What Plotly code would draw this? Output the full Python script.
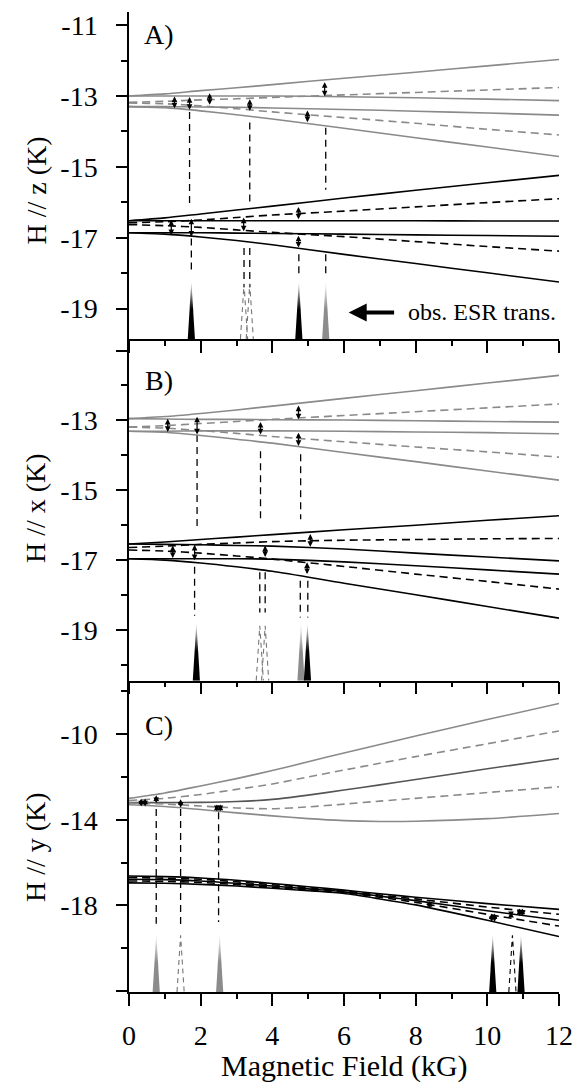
import plotly.graph_objects as go
from plotly.subplots import make_subplots

# ---------------- data ----------------
FIELD_AB = [0, 1, 2, 3, 4, 6, 8, 10, 12]
FIELD_C = [0, 1, 2, 3, 4, 5, 6, 7, 8, 10, 12]

# Panel A  (H // z) - upper (gray) levels
A_UP_S1 = [-13.00, -12.94, -12.85, -12.77, -12.68, -12.50, -12.33, -12.15, -11.97]
A_UP_D1 = [-13.18, -13.15, -13.11, -13.08, -13.04, -12.97, -12.90, -12.83, -12.76]
A_UP_S2 = [-13.00, -13.00, -13.00, -13.00, -13.00, -13.02, -13.05, -13.09, -13.13]
A_UP_S3 = [-13.30, -13.30, -13.31, -13.32, -13.34, -13.38, -13.43, -13.48, -13.54]
A_UP_D2 = [-13.20, -13.22, -13.28, -13.36, -13.45, -13.61, -13.77, -13.94, -14.10]
A_UP_S4 = [-13.30, -13.33, -13.42, -13.53, -13.65, -13.91, -14.18, -14.44, -14.71]
# Panel A - lower (black) levels
A_LO_S1 = [-16.52, -16.44, -16.33, -16.22, -16.11, -15.88, -15.66, -15.45, -15.24]
A_LO_D1 = [-16.58, -16.55, -16.50, -16.43, -16.36, -16.25, -16.13, -16.01, -15.90]
A_LO_S2 = [-16.52, -16.52, -16.52, -16.52, -16.52, -16.52, -16.52, -16.53, -16.53]
A_LO_S3 = [-16.86, -16.86, -16.86, -16.87, -16.88, -16.90, -16.92, -16.94, -16.96]
A_LO_D2 = [-16.63, -16.66, -16.71, -16.78, -16.85, -16.97, -17.11, -17.25, -17.38]
A_LO_S4 = [-16.86, -16.90, -16.98, -17.08, -17.20, -17.47, -17.73, -17.99, -18.25]
# Panel A transitions
A_ARROW_X = [1.27, 1.69, 2.25, 3.37, 4.98, 5.46, 1.18, 1.74, 3.20, 4.73, 4.73]
A_ARROW_FROM = [-12.97, -12.99, -12.88, -13.05, -13.37, -12.57, -16.46, -16.42, -16.39, -16.09, -16.90]
A_ARROW_TO = [-13.35, -13.39, -13.25, -13.42, -13.74, -13.01, -16.93, -16.97, -16.82, -16.48, -17.28]
A_VLINE_X = [1.69, 3.37, 5.49, 1.74, 3.21, 3.37, 4.74, 5.49]
A_VLINE_TOP = [-13.45, -13.75, -13.90, -17.02, -17.29, -17.29, -17.47, -17.47]
A_VLINE_BOT = [-16.12, -16.06, -15.65, -18.03, -18.40, -18.40, -18.14, -18.13]
A_PEAK_X = [1.74, 4.74, 5.49]
A_PEAK_KIND = ['black', 'black', 'gray']
A_WEAK_X = [3.21, 3.37]

# Panel B  (H // x)
B_UP_S1 = [-12.95, -12.89, -12.80, -12.70, -12.59, -12.37, -12.15, -11.93, -11.71]
B_UP_D1 = [-13.19, -13.15, -13.09, -13.03, -12.97, -12.86, -12.75, -12.64, -12.53]
B_UP_S2 = [-12.95, -12.96, -12.97, -12.97, -12.98, -12.99, -13.01, -13.03, -13.05]
B_UP_S3 = [-13.31, -13.31, -13.30, -13.30, -13.30, -13.31, -13.33, -13.35, -13.38]
B_UP_D2 = [-13.19, -13.22, -13.29, -13.37, -13.46, -13.61, -13.76, -13.90, -14.05]
B_UP_S4 = [-13.31, -13.34, -13.43, -13.54, -13.65, -13.92, -14.18, -14.45, -14.71]
B_LO_S1 = [-16.54, -16.48, -16.41, -16.34, -16.27, -16.13, -16.00, -15.86, -15.73]
B_LO_D1 = [-16.64, -16.60, -16.55, -16.51, -16.47, -16.43, -16.41, -16.39, -16.38]
B_LO_S2 = [-16.54, -16.55, -16.56, -16.58, -16.60, -16.68, -16.80, -16.91, -17.02]
B_LO_S3 = [-16.96, -16.96, -16.96, -16.96, -16.97, -17.05, -17.16, -17.28, -17.40]
B_LO_D2 = [-16.71, -16.74, -16.80, -16.88, -16.97, -17.18, -17.40, -17.61, -17.83]
B_LO_S4 = [-16.96, -17.00, -17.08, -17.19, -17.32, -17.66, -17.99, -18.33, -18.66]
B_ARROW_X = [1.08, 1.90, 3.67, 4.73, 4.73, 1.22, 1.83, 3.80, 4.97, 5.06]
B_ARROW_FROM = [-12.91, -12.85, -13.00, -12.53, -13.31, -16.54, -16.52, -16.54, -17.02, -16.21]
B_ARROW_TO = [-13.33, -13.40, -13.40, -12.97, -13.73, -16.94, -17.00, -16.91, -17.40, -16.62]
B_VLINE_X = [1.90, 3.67, 4.79, 1.83, 3.65, 3.80, 4.78, 4.99]
B_VLINE_TOP = [-13.42, -13.88, -13.97, -17.19, -17.35, -17.35, -17.59, -17.59]
B_VLINE_BOT = [-16.11, -15.88, -15.83, -18.59, -18.50, -18.50, -18.64, -18.64]
B_PEAK_X = [1.88, 4.80, 4.98]
B_PEAK_KIND = ['black', 'gray', 'black']
B_WEAK_X = [3.65, 3.80]

# Panel C  (H // y)
C_UP_S1 = [-13.00, -12.75, -12.42, -12.08, -11.70, -11.29, -10.88, -10.48, -10.09, -9.32, -8.57]
C_UP_D1 = [-13.10, -13.00, -12.82, -12.58, -12.33, -12.00, -11.68, -11.36, -11.05, -10.45, -9.85]
C_UP_S2 = [-13.20, -13.20, -13.19, -13.15, -13.05, -12.85, -12.61, -12.37, -12.12, -11.62, -11.14]
C_UP_D2 = [-13.22, -13.27, -13.36, -13.45, -13.49, -13.40, -13.27, -13.13, -13.00, -12.73, -12.46]
C_UP_S3 = [-13.30, -13.38, -13.52, -13.68, -13.82, -13.95, -14.04, -14.08, -14.07, -13.95, -13.71]
C_LO_S1 = [-16.63, -16.66, -16.72, -16.83, -16.98, -17.13, -17.29, -17.46, -17.62, -17.92, -18.19]
C_LO_D1 = [-16.70, -16.73, -16.78, -16.90, -17.04, -17.18, -17.33, -17.52, -17.70, -18.08, -18.42]
C_LO_S2 = [-16.78, -16.80, -16.86, -16.97, -17.10, -17.23, -17.37, -17.57, -17.78, -18.25, -18.70]
C_LO_D2 = [-16.86, -16.88, -16.93, -17.03, -17.15, -17.28, -17.41, -17.62, -17.86, -18.42, -18.97]
C_LO_S3 = [-16.95, -16.97, -17.02, -17.10, -17.20, -17.32, -17.45, -17.70, -17.98, -18.70, -19.46]
C_ARROW_X = [0.34, 0.45, 0.76, 1.44, 2.45, 2.55, 8.39, 10.12, 10.20, 10.66, 10.90, 10.98]
C_ARROW_FROM = [-12.94, -12.94, -12.79, -12.97, -13.22, -13.22, -17.73, -18.31, -18.31, -18.23, -18.08, -18.08]
C_ARROW_TO = [-13.38, -13.38, -13.22, -13.44, -13.60, -13.60, -18.11, -18.78, -18.78, -18.55, -18.51, -18.51]
C_VLINE_X = [0.76, 1.44, 2.50]
C_VLINE_TOP = [-13.50, -13.50, -13.65]
C_VLINE_BOT = [-18.86, -18.93, -18.78]
C_PEAK_X = [0.76, 2.53, 10.15, 10.94]
C_PEAK_KIND = ['gray', 'gray', 'black', 'black']
C_WEAK_X = [1.44, 10.70]
C_WEAK_KIND = ['gray', 'black']

X_TICKS = [0, 2, 4, 6, 8, 10, 12]
A_YTICKS = [-19, -17, -15, -13, -11]
A_YTICKTEXT = ['-19', '-17', '-15', '-13', '-11']
B_YTICKS = [-19, -17, -15, -13, -11]
B_YTICKTEXT = ['-19', '-17', '-15', '-13', '']
C_YTICKS = [-22, -18, -14, -10]
C_YTICKTEXT = ['', '-18', '-14', '-10']

# ---------------- styling ----------------
FONT = 'Liberation Serif, Times New Roman, serif'
GRAY = '#8a8a8a'
DARKGRAY = '#555555'
LW = 1.6
DASH = '8px,5px'
PEAK_HW = 0.1

RANGES = {1: [-19.86, -10.63], 2: [-20.45, -10.67], 3: [-22.05, -7.50]}
PEAK_TOP = {1: -18.2, 2: -18.78, 3: -19.3}

fig = make_subplots(rows=3, cols=1, vertical_spacing=0,
                    row_heights=[327.7, 342.3, 312.0])


def axn(row, letter):
    return letter if row == 1 else f'{letter}{row}'


def add_level(row, xs, ys, color, dashed):
    fig.add_trace(go.Scatter(x=xs, y=ys, mode='lines', hoverinfo='skip',
                             line=dict(color=color, width=LW,
                                       dash=DASH if dashed else 'solid',
                                       shape='spline', smoothing=0.7)),
                  row=row, col=1)


def add_vlines(row, xs, tops, bots):
    for x, t, b in zip(xs, tops, bots):
        fig.add_trace(go.Scatter(x=[x, x], y=[t, b], mode='lines', hoverinfo='skip',
                                 line=dict(color='black', width=1.3, dash='7px,5px')),
                      row=row, col=1)


def add_peaks(row, xs, kinds):
    bottom = RANGES[row][0]
    top = PEAK_TOP[row]
    for x, k in zip(xs, kinds):
        col = 'black' if k == 'black' else '#8c8c8c'
        fig.add_trace(go.Scatter(
            x=[x - PEAK_HW, x, x + PEAK_HW, x - PEAK_HW],
            y=[bottom, top, bottom, bottom], mode='lines', hoverinfo='skip',
            line=dict(width=0), fill='toself',
            fillgradient=dict(type='vertical',
                              colorscale=[[0, col], [0.5, col], [1, 'white']])),
            row=row, col=1)


def add_weak(row, xs, kinds=None):
    bottom = RANGES[row][0]
    top = PEAK_TOP[row] - 0.1
    kinds = kinds or ['gray'] * len(xs)
    for x, k in zip(xs, kinds):
        col = 'black' if k == 'black' else '#777777'
        fig.add_trace(go.Scatter(
            x=[x - PEAK_HW, x, x + PEAK_HW], y=[bottom, top, bottom],
            mode='lines', hoverinfo='skip',
            line=dict(color=col, width=1.1, dash='5px,4px')),
            row=row, col=1)


def add_arrows(row, xs, froms, tos):
    for x, a, b in zip(xs, froms, tos):
        fig.add_annotation(x=x, y=b, ax=x, ay=a,
                           xref=axn(row, 'x'), yref=axn(row, 'y'),
                           axref=axn(row, 'x'), ayref=axn(row, 'y'),
                           text='', showarrow=True, arrowside='end+start',
                           arrowhead=2, arrowsize=0.9, arrowwidth=1.25,
                           arrowcolor='black', standoff=0, startstandoff=0)


# Panel A
add_vlines(1, A_VLINE_X, A_VLINE_TOP, A_VLINE_BOT)
add_peaks(1, A_PEAK_X, A_PEAK_KIND)
add_weak(1, A_WEAK_X)
for ys, dashed in [(A_UP_S1, 0), (A_UP_D1, 1), (A_UP_S2, 0), (A_UP_S3, 0), (A_UP_D2, 1), (A_UP_S4, 0)]:
    add_level(1, FIELD_AB, ys, GRAY, dashed)
for ys, dashed in [(A_LO_S1, 0), (A_LO_D1, 1), (A_LO_S2, 0), (A_LO_S3, 0), (A_LO_D2, 1), (A_LO_S4, 0)]:
    add_level(1, FIELD_AB, ys, 'black', dashed)
add_arrows(1, A_ARROW_X, A_ARROW_FROM, A_ARROW_TO)

# Panel B
add_vlines(2, B_VLINE_X, B_VLINE_TOP, B_VLINE_BOT)
add_peaks(2, B_PEAK_X, B_PEAK_KIND)
add_weak(2, B_WEAK_X)
for ys, dashed in [(B_UP_S1, 0), (B_UP_D1, 1), (B_UP_S2, 0), (B_UP_S3, 0), (B_UP_D2, 1), (B_UP_S4, 0)]:
    add_level(2, FIELD_AB, ys, GRAY, dashed)
for ys, dashed in [(B_LO_S1, 0), (B_LO_D1, 1), (B_LO_S2, 0), (B_LO_S3, 0), (B_LO_D2, 1), (B_LO_S4, 0)]:
    add_level(2, FIELD_AB, ys, 'black', dashed)
add_arrows(2, B_ARROW_X, B_ARROW_FROM, B_ARROW_TO)

# Panel C
add_vlines(3, C_VLINE_X, C_VLINE_TOP, C_VLINE_BOT)
add_peaks(3, C_PEAK_X, C_PEAK_KIND)
add_weak(3, C_WEAK_X, C_WEAK_KIND)
for ys, color, dashed in [(C_UP_S1, GRAY, 0), (C_UP_D1, GRAY, 1), (C_UP_S2, DARKGRAY, 0),
                          (C_UP_D2, GRAY, 1), (C_UP_S3, GRAY, 0)]:
    add_level(3, FIELD_C, ys, color, dashed)
for ys, dashed in [(C_LO_S1, 0), (C_LO_D1, 1), (C_LO_S2, 0), (C_LO_D2, 1), (C_LO_S3, 0)]:
    add_level(3, FIELD_C, ys, 'black', dashed)
add_arrows(3, C_ARROW_X, C_ARROW_FROM, C_ARROW_TO)

# ---------------- axes ----------------
for row in (1, 2, 3):
    fig.update_xaxes(range=[0, 12], showline=True, linecolor='black', linewidth=1.5,
                     ticks='outside', ticklen=12, tickwidth=1.5, tickcolor='black',
                     tickvals=X_TICKS, ticktext=[str(v) for v in X_TICKS],
                     minor=dict(ticks='outside', ticklen=5, tickwidth=1.5,
                                tickcolor='black', dtick=1, tick0=0),
                     showgrid=False, zeroline=False, mirror=False,
                     showticklabels=(row == 3), ticklabelstandoff=6,
                     ticklabeloverflow='allow',
                     tickfont=dict(family=FONT, size=28, color='black'),
                     row=row, col=1)

yt = {1: (A_YTICKS, A_YTICKTEXT, 1), 2: (B_YTICKS, B_YTICKTEXT, 1), 3: (C_YTICKS, C_YTICKTEXT, 2)}
for row in (1, 2, 3):
    vals, txt, mdt = yt[row]
    fig.update_yaxes(range=RANGES[row], showline=True, linecolor='black', linewidth=1.5,
                     ticks='outside', ticklen=11, tickwidth=1.5, tickcolor='black',
                     tickvals=vals, ticktext=txt,
                     minor=dict(ticks='outside', ticklen=6, tickwidth=1.5,
                                tickcolor='black', dtick=mdt, tick0=-10),
                     showgrid=False, zeroline=False, mirror=False,
                     ticklabelstandoff=13, ticklabeloverflow='allow',
                     tickfont=dict(family=FONT, size=28, color='black'),
                     row=row, col=1)

# ---------------- text ----------------
tf = dict(family=FONT, size=28, color='black')
fig.add_annotation(x=0.85, y=-11.27, xref='x', yref='y', text='A)', showarrow=False, font=tf)
fig.add_annotation(x=0.85, y=-11.85, xref='x2', yref='y2', text='B)', showarrow=False, font=tf)
fig.add_annotation(x=0.85, y=-9.6, xref='x3', yref='y3', text='C)', showarrow=False, font=tf)

yf = dict(family=FONT, size=28, color='black')
for yc, t in [(0.818, 'H // z (K)'), (0.494, 'H // x (K)'), (0.148, 'H // y (K)')]:
    fig.add_annotation(x=-0.216, y=yc, xref='paper', yref='paper', text=t,
                       textangle=-90, showarrow=False, font=yf,
                       xanchor='center', yanchor='middle')
fig.add_annotation(x=0.5, y=-0.076, xref='paper', yref='paper', text='Magnetic Field (kG)',
                   showarrow=False, font=dict(family=FONT, size=30, color='black'),
                   xanchor='center', yanchor='middle')

# obs. ESR trans. marker
fig.add_annotation(x=6.13, y=-19.11, ax=7.44, ay=-19.11, xref='x', yref='y', axref='x', ayref='y',
                   text='', showarrow=True, arrowhead=2, arrowsize=0.9, arrowwidth=4,
                   arrowcolor='black', standoff=0)
fig.add_annotation(x=7.74, y=-19.11, xref='x', yref='y', text='obs. ESR trans.',
                   showarrow=False, xanchor='left', yanchor='middle',
                   font=dict(family=FONT, size=24, color='black'))

# the page body adds an 8px offset; margins compensate so the plot area lands in place
fig.update_layout(width=584, height=1086, showlegend=False,
                  margin=dict(l=121, r=33, t=2, b=102),
                  plot_bgcolor='white', paper_bgcolor='white')

fig.write_html('out.html')
